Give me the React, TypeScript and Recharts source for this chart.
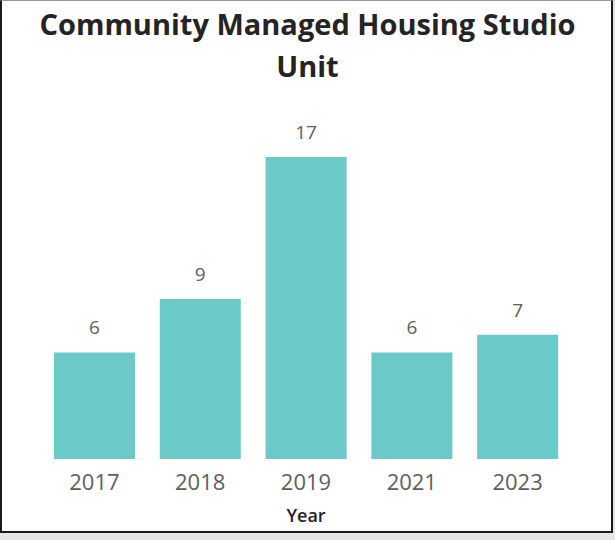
import { BarChart, Bar, XAxis, YAxis, LabelList } from "recharts";

const years = ["2017", "2018", "2019", "2021", "2023"];
const units = [6, 9, 17, 6, 7];

const data = years.map((year, i) => ({ year, units: units[i] }));

const FONT = "'Open Sans', 'Noto Sans', sans-serif";

function YearTick(props: any) {
  const { x, y, payload } = props;
  return (
    <text x={x} y={y + 23} textAnchor="middle" fill="#605E5C" fontSize={22} fontFamily={FONT}>
      {payload.value}
    </text>
  );
}

export default function App() {
  return (
    <div style={{ position: "absolute", left: 0, top: 0, width: 615, height: 540, background: "#e6e6e6" }}>
      <div
        style={{
          position: "absolute",
          left: 0,
          top: 0,
          width: 613,
          height: 533,
          boxSizing: "border-box",
          background: "#fff",
          borderLeft: "2px solid #1a1a1a",
          borderRight: "2px solid #1a1a1a",
          borderBottom: "2px solid #1a1a1a",
          borderTop: "1px solid #999",
        }}
      />
      <div
        style={{
          position: "absolute",
          left: 0,
          top: 3,
          width: 615,
          textAlign: "center",
          fontFamily: FONT,
          fontWeight: 700,
          fontSize: 29,
          lineHeight: "42px",
          color: "#252423",
        }}
      >
        Community Managed Housing Studio
        <br />
        Unit
      </div>
      <div style={{ position: "absolute", left: 0, top: 0 }}>
        <BarChart
          width={615}
          height={540}
          data={data}
          margin={{ top: 103.7, right: 44.5, left: 41.5, bottom: 21 }}
          barCategoryGap="11.8%"
        >
          <XAxis
            dataKey="year"
            axisLine={false}
            tickLine={false}
            height={60}
            tick={<YearTick />}
            label={{
              value: "Year",
              position: "insideBottom",
              offset: 0,
              dy: 3,
              fill: "#252423",
              fontSize: 18,
              fontWeight: 600,
              fontFamily: FONT,
            }}
          />
          <YAxis hide domain={[0, 20]} />
          <Bar dataKey="units" fill="#6BC9C8" isAnimationActive={false}>
            <LabelList
              dataKey="units"
              position="top"
              offset={18}
              fill="#605E5C"
              fontSize={19}
              fontFamily={FONT}
            />
          </Bar>
        </BarChart>
      </div>
    </div>
  );
}
